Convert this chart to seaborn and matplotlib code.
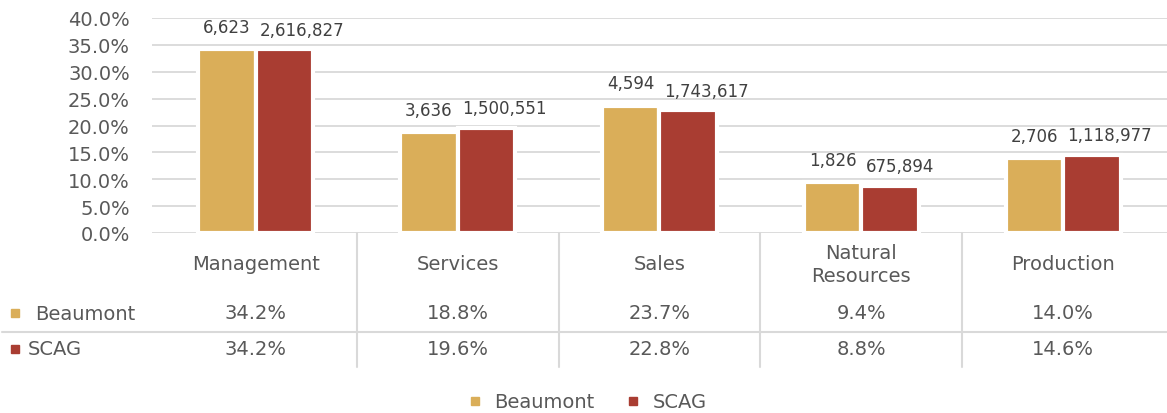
import pandas as pd
import matplotlib.pyplot as plt
import seaborn as sns
from matplotlib.lines import Line2D
import matplotlib.transforms as mtransforms

# occupation shares, Beaumont vs SCAG region
categories = ['Management', 'Services', 'Sales', 'Natural Resources', 'Production']
cat_labels = ['Management', 'Services', 'Sales', 'Natural\nResources', 'Production']
series = ['Beaumont', 'SCAG']
beaumont_pct = [34.2, 18.8, 23.7, 9.4, 14.0]
scag_pct = [34.2, 19.6, 22.8, 8.8, 14.6]
beaumont_n = [6623, 3636, 4594, 1826, 2706]
scag_n = [2616827, 1500551, 1743617, 675894, 1118977]
yticks = [0, 5, 10, 15, 20, 25, 30, 35, 40]

colors = {'Beaumont': '#DAAE59', 'SCAG': '#A93D32'}
text_col = '#595959'
line_col = '#D9D9D9'

df = pd.DataFrame({
    'category': categories * 2,
    'area': ['Beaumont'] * 5 + ['SCAG'] * 5,
    'pct': beaumont_pct + scag_pct,
    'count': beaumont_n + scag_n,
})

sns.set_style('white')
plt.rcParams['font.family'] = ['DejaVu Sans']

W, H = 1167, 414
fig = plt.figure(figsize=(W / 100, H / 100), dpi=100)
ax = fig.add_axes([152 / W, 1 - 234 / H, 1015 / W, 215 / H])

sns.barplot(data=df, x='category', y='pct', hue='area', order=categories,
            hue_order=series, palette=colors, saturation=1, width=0.571,
            edgecolor='white', linewidth=3, legend=False, ax=ax, zorder=3)

ax.set_ylim(0, 40)
ax.set_yticks(yticks)
ax.set_yticklabels([f'{t:.1f}%' for t in yticks])
ax.yaxis.grid(True, color=line_col, linewidth=1.3)
ax.set_axisbelow(True)
sns.despine(ax=ax, left=True, bottom=True)
ax.tick_params(axis='y', length=0, pad=16, labelsize=14, labelcolor=text_col)
ax.tick_params(axis='x', length=0, labelbottom=False)
ax.set_xlabel('')
ax.set_ylabel('')

# data labels (counts)
bcont, scont = ax.containers[0], ax.containers[1]
for bar, n in zip(bcont, beaumont_n):
    ax.annotate(f'{n:,}', (bar.get_x() + bar.get_width() / 2, bar.get_height()),
                xytext=(0, 16), textcoords='offset points', ha='center', va='center',
                fontsize=12, color='#404040')
for bar, n in zip(scont, scag_n):
    ax.annotate(f'{n:,}', (bar.get_x(), bar.get_height()),
                xytext=(3, 14), textcoords='offset points', ha='left', va='center',
                fontsize=12, color='#404040')

# data table under the chart
def ay(py):
    return (234 - py) / 215

trans = mtransforms.blended_transform_factory(ax.transData, ax.transAxes)
for i, lab in enumerate(cat_labels):
    ax.text(i, ay(265), lab, transform=trans, ha='center', va='center',
            fontsize=14, color=text_col, linespacing=1.25, clip_on=False)
    ax.text(i, ay(314), f'{beaumont_pct[i]:.1f}%', transform=trans, ha='center',
            va='center', fontsize=14, color=text_col, clip_on=False)
    ax.text(i, ay(350), f'{scag_pct[i]:.1f}%', transform=trans, ha='center',
            va='center', fontsize=14, color=text_col, clip_on=False)
for i in range(len(categories) - 1):
    ax.plot([i + 0.5, i + 0.5], [0, ay(368)], transform=trans, color=line_col,
            linewidth=1.5, clip_on=False)
ax.plot([(2 - 152) / 1015, 1.0], [ay(333), ay(333)], transform=ax.transAxes,
        color=line_col, linewidth=1.5, clip_on=False)

# row headers with colour keys
for name, py, tx in [('Beaumont', 314, 35), ('SCAG', 350, 28)]:
    fig.add_artist(Line2D([15 / W], [1 - py / H], marker='s', markersize=5.5,
                          color=colors[name], linestyle='none'))
    fig.text(tx / W, 1 - py / H, name, ha='left', va='center', fontsize=14,
             color=text_col)

# legend at the bottom
handles = [Line2D([], [], marker='s', markersize=5.5, color=colors[s], linestyle='none')
           for s in series]
fig.legend(handles, series, loc='center', bbox_to_anchor=(0.503, 1 - 403 / H),
           ncol=2, frameon=False, fontsize=14, labelcolor=text_col,
           handlelength=0.8, handletextpad=0.6, columnspacing=1.6)

fig.savefig('out.png', dpi=100)
